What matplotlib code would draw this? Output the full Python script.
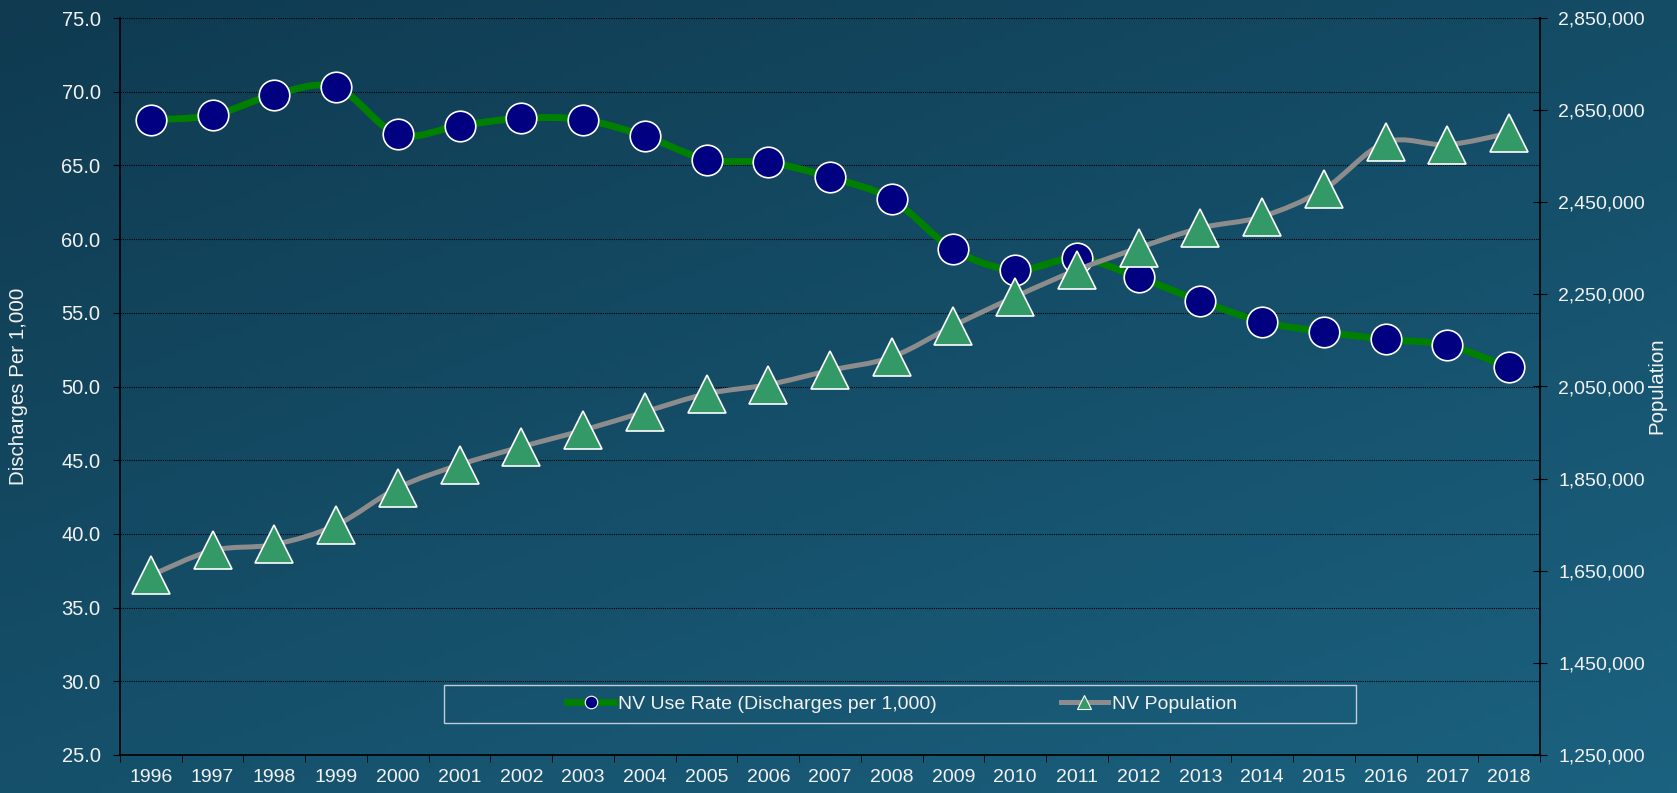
import numpy as np
import matplotlib.pyplot as plt
from matplotlib.path import Path
from matplotlib.patches import PathPatch, Rectangle
from matplotlib.lines import Line2D
from matplotlib.ticker import FuncFormatter

plt.rcParams['font.family'] = ['Liberation Sans', 'DejaVu Sans']

# Data
years = ["1996", "1997", "1998", "1999", "2000", "2001", "2002", "2003", "2004", "2005", "2006", "2007",
         "2008", "2009", "2010", "2011", "2012", "2013", "2014", "2015", "2016", "2017", "2018"]
use_rate = [68.1, 68.4, 69.8, 70.3, 67.1, 67.7, 68.2, 68.1, 67.0, 65.4, 65.2, 64.2,
            62.7, 59.3, 57.9, 58.7, 57.4, 55.8, 54.4, 53.7, 53.2, 52.8, 51.3]
population = [1640000, 1694000, 1707000, 1749000, 1830000, 1880000, 1919000, 1955000, 1995000,
              2034000, 2054000, 2085000, 2114000, 2182000, 2245000, 2303000, 2351000, 2394000,
              2419000, 2478000, 2580000, 2575000, 2600000]

left_ticks = np.arange(25, 75.1, 5)
right_ticks = np.arange(1250000, 2850001, 200000)


def smooth_path(xs, ys):
    # Excel-style smoothed line as cubic bezier segments through the points
    n = len(xs)
    verts = [(xs[0], ys[0])]
    codes = [Path.MOVETO]
    for i in range(n - 1):
        xa, ya = (xs[i - 1], ys[i - 1]) if i > 0 else (xs[i], ys[i])
        xb, yb = (xs[i + 2], ys[i + 2]) if i + 2 < n else (xs[i + 1], ys[i + 1])
        c1 = (xs[i] + (xs[i + 1] - xa) / 6, ys[i] + (ys[i + 1] - ya) / 6)
        c2 = (xs[i + 1] - (xb - xs[i]) / 6, ys[i + 1] - (yb - ys[i]) / 6)
        verts += [c1, c2, (xs[i + 1], ys[i + 1])]
        codes += [Path.CURVE4] * 3
    return Path(verts, codes)


fig = plt.figure(figsize=(16.77, 7.93), dpi=100)

# background gradient
bg = fig.add_axes([0, 0, 1, 1], zorder=-5)
gx, gy = np.meshgrid(np.linspace(0, 1, 200), np.linspace(0, 1, 100))
t = 0.55 * gy + 0.45 * gx
c0 = np.array([15, 58, 80]) / 255
c1 = np.array([27, 98, 128]) / 255
img = c0[None, None, :] * (1 - t[..., None]) + c1[None, None, :] * t[..., None]
bg.imshow(img, extent=[0, 1, 0, 1], aspect='auto', origin='upper')
bg.axis('off')

ax = fig.add_axes([120 / 1677, 1 - 755 / 793, 1420 / 1677, 737 / 793])
ax.set_facecolor('none')
x = np.arange(len(years))

ax.add_patch(PathPatch(smooth_path(x, use_rate), fill=False, edgecolor='#008000', lw=5,
                       capstyle='round', joinstyle='round', zorder=3))
ax.plot(x, use_rate, linestyle='none', marker='o', markersize=22, markerfacecolor='#000080',
        markeredgecolor='white', markeredgewidth=1.2, zorder=4)
ax.set_xlim(-0.5, len(years) - 0.5)
ax.set_ylim(25, 75)
ax.set_yticks(left_ticks)
ax.yaxis.set_major_formatter(FuncFormatter(lambda v, p: f"{v:.1f}"))
ax.yaxis.grid(True, linestyle=(0, (1, 1)), color='black', lw=0.8)
ax.set_axisbelow(True)
ax.set_xticks(x)
ax.set_xticklabels(years)
ax.set_xticks(np.arange(-0.5, len(years), 1), minor=True)
ax.tick_params(axis='x', which='major', length=0, labelsize=14, labelcolor='#f2f2f2', pad=10)
ax.tick_params(axis='x', which='minor', length=5, color='black', direction='out')
ax.tick_params(axis='y', length=5, color='black', direction='out', labelsize=14.5,
               labelcolor='#f2f2f2', pad=9)
for s in ['top', 'right']:
    ax.spines[s].set_visible(False)
for s in ['left', 'bottom']:
    ax.spines[s].set_color('black')
    ax.spines[s].set_linewidth(1.2)

ax2 = ax.twinx()
ax2.set_facecolor('none')
ax2.add_patch(PathPatch(smooth_path(x, population), fill=False, edgecolor='#8c8c8c', lw=3.6,
                        capstyle='round', joinstyle='round', zorder=3))
ax2.plot(x, population, linestyle='none', marker='^', markersize=27, markerfacecolor='#339966',
         markeredgecolor='white', markeredgewidth=1.2, zorder=4)
ax2.set_ylim(1250000, 2850000)
ax2.set_yticks(right_ticks)
ax2.yaxis.set_major_formatter(FuncFormatter(lambda v, p: f"{v:,.0f}"))
ax2.tick_params(axis='y', length=10, color='black', direction='inout', labelsize=14,
                labelcolor='#f2f2f2', pad=8)
for s in ['top', 'left', 'bottom']:
    ax2.spines[s].set_visible(False)
ax2.spines['right'].set_color('black')
ax2.spines['right'].set_linewidth(1.2)

fig.text(19 / 1677, 1 - 386 / 793, "Discharges Per 1,000", rotation=90, ha='center', va='center',
         fontsize=14.8, color='#f2f2f2')
fig.text(1657 / 1677, 1 - 386 / 793, "Population", rotation=90, ha='center', va='center',
         fontsize=14.8, color='#f2f2f2')

# legend
fig.patches.append(Rectangle((444 / 1677, 1 - 723 / 793), 912 / 1677, 38 / 793,
                             transform=fig.transFigure, fill=False, edgecolor='#c0ccd6', lw=1))
handles = [
    Line2D([], [], color='#008000', lw=5, marker='o', markersize=9, markerfacecolor='#000080',
           markeredgecolor='white', markeredgewidth=0.8),
    Line2D([], [], color='#8c8c8c', lw=3.6, marker='^', markersize=10, markerfacecolor='#339966',
           markeredgecolor='white', markeredgewidth=0.8),
]
leg = fig.legend(handles, ["NV Use Rate (Discharges per 1,000)", "NV Population"], ncol=2,
                 loc='center', bbox_to_anchor=(902 / 1677, 1 - 704 / 793), frameon=False,
                 fontsize=14, handlelength=2.4, handletextpad=0.2, columnspacing=6.4,
                 labelcolor='#f2f2f2')

fig.savefig("out.png", dpi=100)
